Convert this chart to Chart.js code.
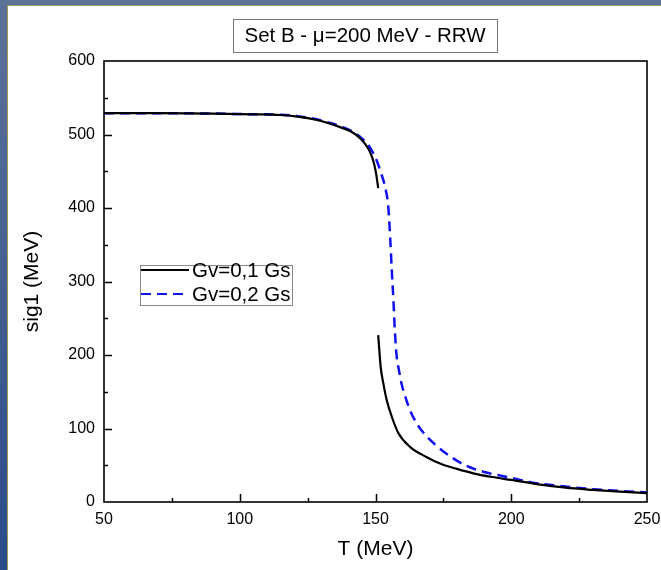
<!DOCTYPE html>
<html>
<head>
<meta charset="utf-8">
<script src="https://cdn.jsdelivr.net/npm/chart.js@4"></script>
<style>
  html, body { margin: 0; padding: 0; }
  body {
    width: 661px; height: 570px; overflow: hidden; position: relative;
    background: linear-gradient(to bottom, #5d7299, #2a4b8a);
  }
  #sheet {
    position: absolute; left: 7px; top: 5px; right: 0; bottom: 0;
    background: #fff; border-left: 1px solid #9c9a55; border-top: 1px solid #9c9a55;
  }
  #wrap { position: absolute; left: 0; top: 0; width: 661px; height: 570px; }
</style>
</head>
<body>
<div id="sheet"></div>
<div id="wrap"><canvas id="chart" width="661" height="570"></canvas></div>
<script>
// Gv=0,1 Gs - upper branch (before the jump)
const blackUpperT = [50, 70, 90, 105, 115, 122, 128, 133, 137, 141, 144, 146, 148, 149.5, 150.3, 151];
const blackUpperS = [529, 529, 528.5, 527.5, 526.5, 524, 520, 515, 510, 504, 496, 488, 476, 460, 445, 427];

// Gv=0,1 Gs - lower branch (after the jump)
const blackLowerT = [151, 151.4, 151.9, 152.9, 154.1, 156, 158.4, 162.7, 168.9, 174, 180, 186, 193, 200, 210, 220, 230, 240, 250];
const blackLowerS = [227, 207, 184, 161, 139, 116, 94, 75, 61, 52, 45, 39, 34, 30, 24, 19.5, 16.5, 14, 12];

// Gv=0,2 Gs
const blueT = [50, 70, 90, 105, 115, 122, 128, 133, 138, 142, 145.5, 148, 150.4, 152, 153.5, 154.7, 155.4, 156, 156.6, 157.1, 157.8, 158.6, 159.6, 161, 162.7, 165.5, 168.9, 172, 176, 183.6, 192, 200, 207, 215, 220, 230, 240, 250];
const blueS = [529, 529, 528.5, 527.5, 527, 524.5, 521, 516, 510, 503, 493, 482, 465, 448, 429, 402, 360, 315, 275, 235, 198, 180, 161, 143, 125, 105, 89, 78, 66, 49, 39, 33, 27, 23, 21, 17.5, 15, 13];

const seriesLabels = ['Gv=0,1 Gs', 'Gv=0,2 Gs'];
const titleText = 'Set B - \u03bc=200 MeV - RRW';
const xTicks = [50, 100, 150, 200, 250];
const yTicks = [0, 100, 200, 300, 400, 500, 600];

const FONT = "'Liberation Sans', Arial, sans-serif";

function toPoints(xs, ys) {
    return xs.map((x, i) => ({ x: x, y: ys[i] }));
}

// Frame, inward ticks, title box and legend
const decorPlugin = {
    id: 'decor',
    afterDraw(chart) {
        const ctx = chart.ctx;
        const a = chart.chartArea;
        const xs = chart.scales.x;
        const ys = chart.scales.y;
        ctx.save();

        // ticks pointing into the plot
        ctx.strokeStyle = '#000';
        ctx.lineWidth = 1.5;
        for (let v = 75; v < 250; v += 25) {
            const px = Math.round(xs.getPixelForValue(v)) + 0.5;
            const len = v % 50 === 0 ? 8 : 4;
            ctx.beginPath();
            ctx.moveTo(px, a.bottom);
            ctx.lineTo(px, a.bottom - len);
            ctx.stroke();
        }
        for (let v = 50; v < 600; v += 50) {
            const py = Math.round(ys.getPixelForValue(v)) + 0.5;
            const len = v % 100 === 0 ? 8 : 4;
            ctx.beginPath();
            ctx.moveTo(a.left, py);
            ctx.lineTo(a.left + len, py);
            ctx.stroke();
        }

        // box round the plot
        ctx.lineWidth = 1.6;
        ctx.strokeRect(a.left, a.top, a.right - a.left, a.bottom - a.top);

        // title in a box
        ctx.font = '20.5px ' + FONT;
        ctx.fillStyle = '#000';
        ctx.textAlign = 'center';
        ctx.textBaseline = 'middle';
        ctx.fillText(titleText, 365, 36);
        ctx.lineWidth = 1;
        ctx.strokeStyle = '#777';
        ctx.strokeRect(233.5, 19.5, 264, 33);

        // legend
        ctx.strokeStyle = '#888';
        ctx.strokeRect(140.5, 265.5, 152, 40);
        const rows = [
            { y: 270, color: '#000', dash: [], label: seriesLabels[0] },
            { y: 294, color: '#1010f0', dash: [10, 6], label: seriesLabels[1] }
        ];
        rows.forEach(r => {
            ctx.strokeStyle = r.color;
            ctx.lineWidth = 2.2;
            ctx.setLineDash(r.dash);
            ctx.beginPath();
            ctx.moveTo(141, r.y);
            ctx.lineTo(189, r.y);
            ctx.stroke();
            ctx.setLineDash([]);
            ctx.textAlign = 'left';
            ctx.fillStyle = '#000';
            ctx.fillText(r.label, 192, r.y + 1);
        });
        ctx.restore();
    }
};

const lineStyle = { pointRadius: 0, fill: false, cubicInterpolationMode: 'monotone', borderWidth: 2.2 };

new Chart(document.getElementById('chart').getContext('2d'), {
    type: 'scatter',
    data: {
        datasets: [
            Object.assign({ label: seriesLabels[0], data: toPoints(blackUpperT, blackUpperS), borderColor: '#000', showLine: true }, lineStyle),
            Object.assign({ label: seriesLabels[0], data: toPoints(blackLowerT, blackLowerS), borderColor: '#000', showLine: true }, lineStyle),
            Object.assign({ label: seriesLabels[1], data: toPoints(blueT, blueS), borderColor: '#1010f0', borderDash: [10, 6], showLine: true }, lineStyle, { borderWidth: 2.5 })
        ]
    },
    options: {
        responsive: false,
        animation: false,
        layout: { padding: { left: 0, right: 14, top: 61, bottom: 0 } },
        plugins: { legend: { display: false }, tooltip: { enabled: false }, title: { display: false } },
        scales: {
            x: {
                type: 'linear', min: 50, max: 250,
                afterBuildTicks: s => { s.ticks = xTicks.map(v => ({ value: v })); },
                afterFit: s => { s.height = 68; s.paddingLeft = 0; s.paddingRight = 0; },
                grid: { display: false, drawTicks: false },
                border: { display: false },
                ticks: { color: '#000', font: { family: FONT, size: 16 }, padding: 8, maxRotation: 0 },
                title: { display: true, text: 'T (MeV)', color: '#000', font: { family: FONT, size: 21 }, padding: { top: 0, bottom: 8 } }
            },
            y: {
                type: 'linear', min: 0, max: 600,
                afterBuildTicks: s => { s.ticks = yTicks.map(v => ({ value: v })); },
                afterFit: s => { s.width = 104; s.paddingTop = 0; s.paddingBottom = 0; },
                grid: { display: false, drawTicks: false },
                border: { display: false },
                ticks: { color: '#000', font: { family: FONT, size: 16 }, padding: 9 },
                title: { display: true, text: 'sig1 (MeV)', color: '#000', font: { family: FONT, size: 21 }, padding: { top: 20, bottom: 0 } }
            }
        }
    },
    plugins: [decorPlugin]
});
</script>
</body>
</html>
